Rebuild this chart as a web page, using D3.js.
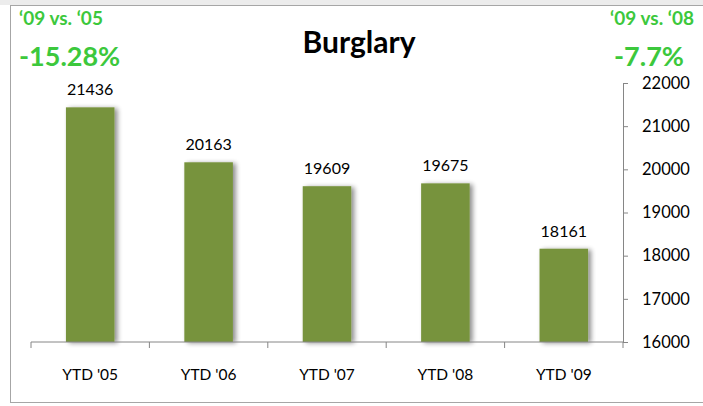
<!DOCTYPE html>
<html>
<head>
<meta charset="utf-8">
<script src="https://cdn.jsdelivr.net/npm/d3@7"></script>
<style>
  body { margin: 0; background: #fff; }
  text { font-family: Lato, "Open Sans", sans-serif; }
</style>
</head>
<body>
<svg width="703" height="406"></svg>
<script>
const categories = ["YTD '05", "YTD '06", "YTD '07", "YTD '08", "YTD '09"];
const values = [21436, 20163, 19609, 19675, 18161];
const yTicks = [16000, 17000, 18000, 19000, 20000, 21000, 22000];
const title = 'Burglary';
const leftNote = ['\u201809 vs. \u201805', '-15.28%'];
const rightNote = ['\u201809 vs. \u201808', '-7.7%'];

const svg = d3.select('svg');
const margin = { top: 83, right: 80, bottom: 64, left: 31 };
const width = +svg.attr('width') - margin.left - margin.right;
const height = +svg.attr('height') - margin.top - margin.bottom;

// outer frame
svg.append('rect')
  .attr('x', 0).attr('y', 0).attr('width', 703).attr('height', 5)
  .attr('fill', '#ececec');
svg.append('rect')
  .attr('x', 10.5).attr('y', 5.5).attr('width', 700).attr('height', 397)
  .attr('fill', '#fff').attr('stroke', '#a6a6a6');

const defs = svg.append('defs');
const f = defs.append('filter').attr('id', 'shadow')
  .attr('x', '-20%').attr('y', '-10%').attr('width', '150%').attr('height', '120%');
f.append('feGaussianBlur').attr('in', 'SourceAlpha').attr('stdDeviation', 2.5);
f.append('feOffset').attr('dx', 3).attr('dy', 1).attr('result', 'b');
f.append('feComponentTransfer').append('feFuncA').attr('type', 'linear').attr('slope', 0.45);
const m = f.append('feMerge');
m.append('feMergeNode');
m.append('feMergeNode').attr('in', 'SourceGraphic');

const g = svg.append('g')
  .attr('transform', `translate(${margin.left},${margin.top})`);

const x = d3.scaleBand().domain(categories).range([0, width]).paddingInner(0.59).paddingOuter(0.295);
const xb = d3.scaleBand().domain(categories).range([0, width]);
const y = d3.scaleLinear().domain([16000, 22000]).range([height, 0]);

g.selectAll('.bar')
  .data(values)
  .enter()
  .append('rect')
  .attr('class', 'bar')
  .attr('x', (d, i) => x(categories[i]))
  .attr('y', d => y(d))
  .attr('width', x.bandwidth())
  .attr('height', d => height - y(d))
  .attr('fill', '#77933c')
  .attr('filter', 'url(#shadow)');

g.selectAll('.val')
  .data(values)
  .enter()
  .append('text')
  .attr('x', (d, i) => x(categories[i]) + x.bandwidth() / 2)
  .attr('y', d => y(d) - 12)
  .attr('text-anchor', 'middle')
  .attr('font-size', 16)
  .attr('fill', '#000')
  .text(d => d);

// x axis
const xAxis = g.append('g').attr('transform', `translate(0,${height})`);
xAxis.append('line')
  .attr('x1', 0).attr('x2', width).attr('stroke', '#868686');
xAxis.selectAll('.tk')
  .data(d3.range(categories.length + 1))
  .enter()
  .append('line')
  .attr('x1', i => i * xb.step()).attr('x2', i => i * xb.step())
  .attr('y1', 0).attr('y2', 6)
  .attr('stroke', '#868686');
xAxis.selectAll('.lbl')
  .data(categories)
  .enter()
  .append('text')
  .attr('x', d => xb(d) + xb.bandwidth() / 2)
  .attr('y', 38)
  .attr('text-anchor', 'middle')
  .attr('font-size', 15.5)
  .attr('fill', '#000')
  .text(d => d);

// right y axis
const yAxis = g.append('g')
  .attr('transform', `translate(${width},0)`)
  .call(d3.axisRight(y).tickValues(yTicks).tickSize(5).tickPadding(14).tickFormat(d3.format('d')));
yAxis.select('.domain').attr('stroke', '#868686');
yAxis.selectAll('.tick line').attr('stroke', '#868686');
yAxis.selectAll('.tick text')
  .attr('font-size', 16.5).attr('fill', '#000')
  .attr('font-family', 'Lato, sans-serif');

// title
svg.append('text')
  .attr('x', 359).attr('y', 53)
  .attr('text-anchor', 'middle')
  .attr('font-size', 30)
  .attr('font-weight', 'bold')
  .attr('fill', '#000')
  .text(title);

// green comparison notes
const green = '#3cc83c';
svg.append('text').attr('x', 19).attr('y', 25)
  .attr('font-size', 19).attr('font-weight', 'bold').attr('fill', green)
  .text(leftNote[0]);
svg.append('text').attr('x', 19).attr('y', 66)
  .attr('font-size', 27).attr('font-weight', 'bold').attr('fill', green)
  .text(leftNote[1]);
svg.append('text').attr('x', 694).attr('y', 25)
  .attr('text-anchor', 'end')
  .attr('font-size', 19).attr('font-weight', 'bold').attr('fill', green)
  .text(rightNote[0]);
svg.append('text').attr('x', 649).attr('y', 66)
  .attr('text-anchor', 'middle')
  .attr('font-size', 27).attr('font-weight', 'bold').attr('fill', green)
  .text(rightNote[1]);
</script>
</body>
</html>
